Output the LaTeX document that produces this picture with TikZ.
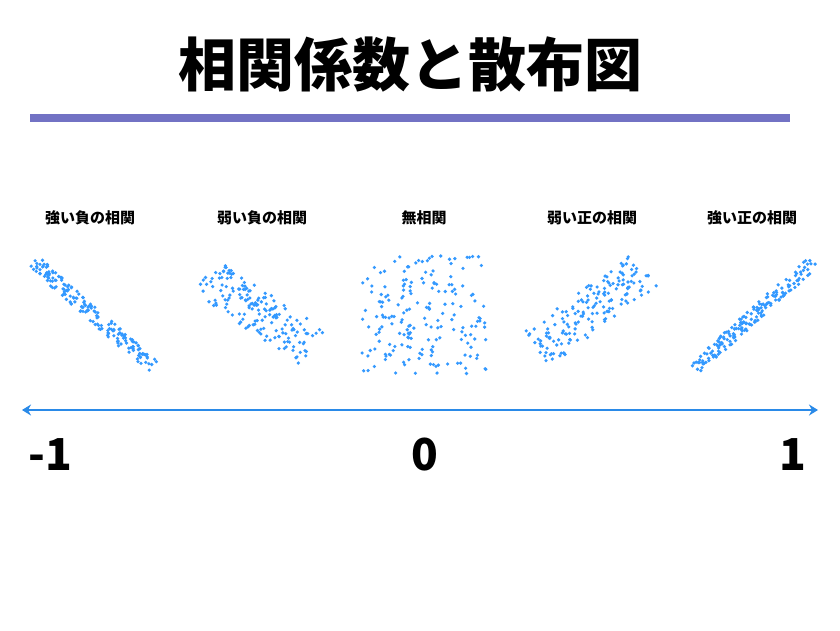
\documentclass[tikz,border=0pt]{standalone}
\usepackage{fontspec}
\setmainfont{Noto Sans CJK JP}
\usetikzlibrary{arrows.meta}
\definecolor{dotc}{HTML}{3399FF}
\definecolor{axc}{HTML}{2A8AE8}
\definecolor{barc}{HTML}{7272C4}
\begin{document}
\begin{tikzpicture}[x=1pt,y=-1pt,
  lab/.style={font=\fontsize{15}{17}\selectfont\bfseries},
  num/.style={font=\fontsize{44}{48}\selectfont\bfseries},
  dot/.style={fill=dotc}]
\useasboundingbox[fill=white] (0,0) rectangle (840,630);
\node[font=\fontsize{58}{64}\selectfont\bfseries] (title) at (410,64) {相関係数と散布図};
\coordinate (b1) at (30,118); \coordinate (b2) at (790,118);
\draw[barc,line width=8] (b1) -- (b2);
\node[lab] (l1) at (90,218) {強い負の相関};
\node[lab] (l2) at (262,218) {弱い負の相関};
\node[lab] (l3) at (424,218) {無相関};
\node[lab] (l4) at (592,218) {弱い正の相関};
\node[lab] (l5) at (752,218) {強い正の相関};
\pgfmathsetseed{7}
% strong negative
\foreach \i in {1,...,180}{\pgfmathsetmacro\t{rnd}\pgfmathsetmacro\n{rand*7}
 \fill[dot] ({34+120*\t+0.67*\n},{262+106*\t-0.75*\n}) circle(1.8);}
% weak negative
\foreach \i in {1,...,170}{\pgfmathsetmacro\t{rnd}\pgfmathsetmacro\n{rand*22}
 \fill[dot] ({205+108*\t+0.55*\n},{276+72*\t-0.8*\n}) circle(1.8);}
% none
\foreach \i in {1,...,190}{\pgfmathsetmacro\a{rnd}\pgfmathsetmacro\b{rnd}
 \fill[dot] ({362+124*\a},{256+118*\b}) circle(1.8);}
% weak positive
\foreach \i in {1,...,170}{\pgfmathsetmacro\t{rnd}\pgfmathsetmacro\n{rand*22}
 \fill[dot] ({536+110*\t+0.55*\n},{350-80*\t+0.8*\n}) circle(1.8);}
% strong positive
\foreach \i in {1,...,180}{\pgfmathsetmacro\t{rnd}\pgfmathsetmacro\n{rand*7}
 \fill[dot] ({694+120*\t+0.67*\n},{368-106*\t+0.75*\n}) circle(1.8);}
\coordinate (a1) at (22,410); \coordinate (a2) at (818,410);
\draw[axc,line width=2.5,{Stealth[length=9,width=11]}-{Stealth[length=9,width=11]}] (a1) -- (a2);
\node[num] (n1) at (50,455) {-1};
\node[num] (n0) at (425,455) {0};
\node[num] (n2) at (793,455) {1};
\end{tikzpicture}
\end{document}
